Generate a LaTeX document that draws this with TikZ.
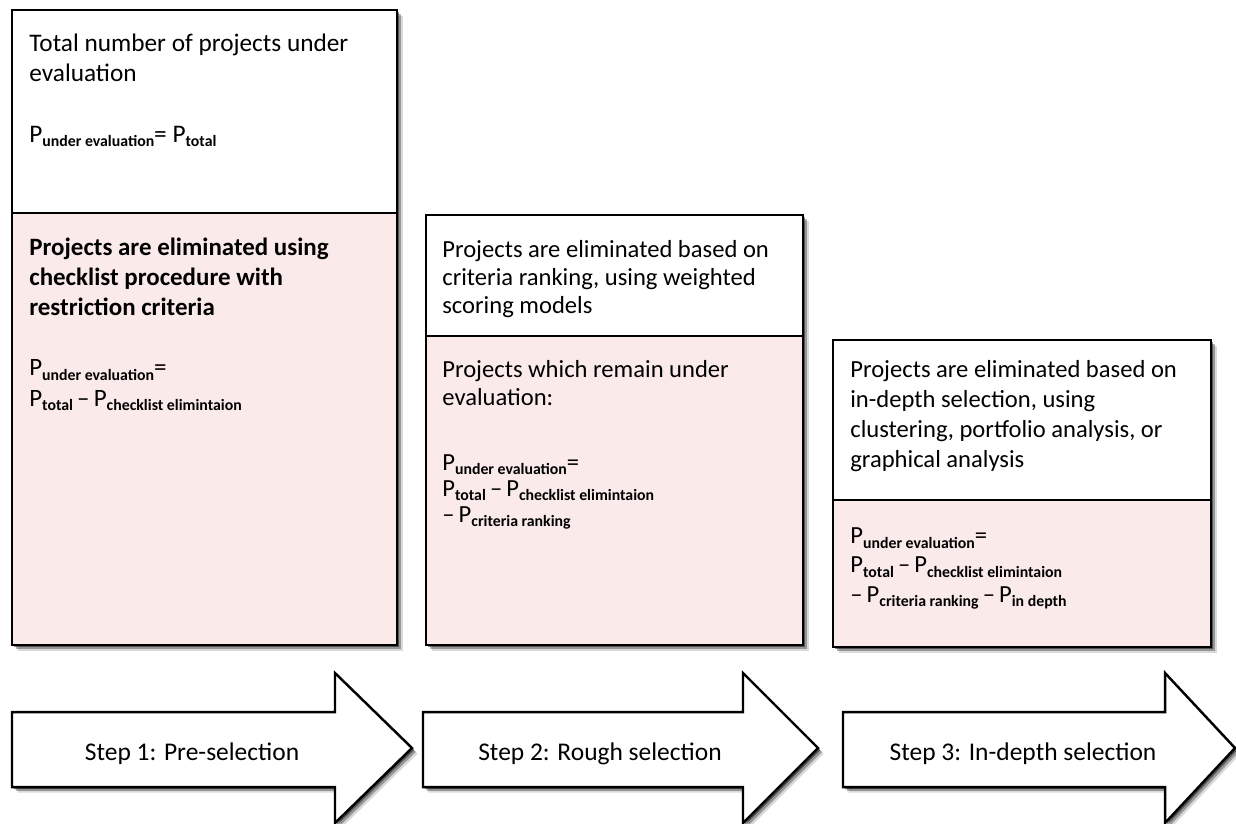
\documentclass[tikz,border=0pt]{standalone}
\usepackage{fontspec}
\setmainfont{Carlito}
\usetikzlibrary{shadows}
\definecolor{rosefill}{RGB}{250,234,233}
% P with a bold, lowered subscript
\newcommand\Pq[1]{P\raisebox{-2.8pt}{\fontsize{9}{9}\selectfont\bfseries #1}}
\newcommand\mn{\,–\,}
\begin{document}
\begin{tikzpicture}[x=0.02cm,y=-0.02cm,
  softshadow/.style={
    general shadow={fill=black,opacity=.45,shadow xshift=1.2pt,shadow yshift=-1.2pt},
    general shadow={fill=black,opacity=.3,shadow xshift=2.2pt,shadow yshift=-2.2pt},
    general shadow={fill=black,opacity=.15,shadow xshift=3.2pt,shadow yshift=-3.2pt}},
  panel/.style={draw=black,line width=1.4pt,rectangle,inner sep=0pt,softshadow},
  upper/.style={panel,fill=white},
  lower/.style={panel,fill=rosefill},
  stepshape/.style={draw=black,line width=1.4pt,fill=white,softshadow,line join=miter},
  txt/.style={anchor=base west,align=left,inner sep=0pt},
  steplabel/.style={anchor=base,inner sep=0pt,font=\fontsize{14.5}{17}\selectfont}]
\useasboundingbox (0,0) rectangle (1236,823);

% column 1
\node[upper,minimum width=7.7cm,minimum height=4.06cm] (c1top) at (204.5,111.5) {};
\node[lower,minimum width=7.7cm,minimum height=8.64cm] (c1bot) at (204.5,429) {};
% column 2
\node[upper,minimum width=7.54cm,minimum height=2.42cm] (c2top) at (614.5,275.5) {};
\node[lower,minimum width=7.54cm,minimum height=6.18cm] (c2bot) at (614.5,490.5) {};
% column 3
\node[upper,minimum width=7.56cm,minimum height=3.2cm] (c3top) at (1022,420) {};
\node[lower,minimum width=7.56cm,minimum height=2.94cm] (c3bot) at (1022,573.5) {};

% texts of column 1 (base anchor = baseline of the last line)
\node[txt,font=\fontsize{14.4}{17}\selectfont] (t1a) at (29,81)
  {Total number of projects under\\evaluation};
\node[txt,font=\fontsize{14.4}{17}\selectfont] (f1a) at (29,142)
  {\Pq{under evaluation}= \Pq{total}};
\node[txt,font=\fontsize{14.2}{17}\selectfont\bfseries] (t1b) at (29,315)
  {Projects are eliminated using\\checklist procedure with\\restriction criteria};
\node[txt,font=\fontsize{14.2}{17.6}\selectfont] (f1b) at (29,406)
  {\Pq{under evaluation}=\\\Pq{total}\mn\Pq{checklist elimintaion}};

% texts of column 2
\node[txt,font=\fontsize{14}{15.9}\selectfont] (t2a) at (442,313)
  {Projects are eliminated based on\\criteria ranking, using weighted\\scoring models};
\node[txt,font=\fontsize{14}{16.2}\selectfont] (t2b) at (442,405.5)
  {Projects which remain under\\evaluation:};
\node[txt,font=\fontsize{14}{14.8}\selectfont] (f2b) at (442,522)
  {\Pq{under evaluation}=\\\Pq{total}\mn\Pq{checklist elimintaion}\\–\,\Pq{criteria ranking}};

% texts of column 3
\node[txt,font=\fontsize{14}{17}\selectfont] (t3a) at (850,467)
  {Projects are eliminated based on\\in-depth selection, using\\clustering, portfolio analysis, or\\graphical analysis};
\node[txt,font=\fontsize{14}{16.7}\selectfont] (f3b) at (850,602)
  {\Pq{under evaluation}=\\\Pq{total}\mn\Pq{checklist elimintaion}\\–\,\Pq{criteria ranking}\mn\Pq{in depth}};

% step arrows
\draw[stepshape] (12,712) -- (335,712) -- (335,673) -- (412,748) -- (335,823) -- (335,787) -- (12,787) -- cycle;
\draw[stepshape] (423,712) -- (743,712) -- (743,673) -- (818,748) -- (743,823) -- (743,787) -- (423,787) -- cycle;
\draw[stepshape] (843,712) -- (1165,712) -- (1165,673) -- (1235,748) -- (1165,823) -- (1165,787) -- (843,787) -- cycle;

\node[steplabel] (s1) at (192,760) {Step 1: Pre-selection};
\node[steplabel] (s2) at (600,760) {Step 2: Rough selection};
\node[steplabel] (s3) at (1023,760) {Step 3: In-depth selection};
\end{tikzpicture}
\end{document}
